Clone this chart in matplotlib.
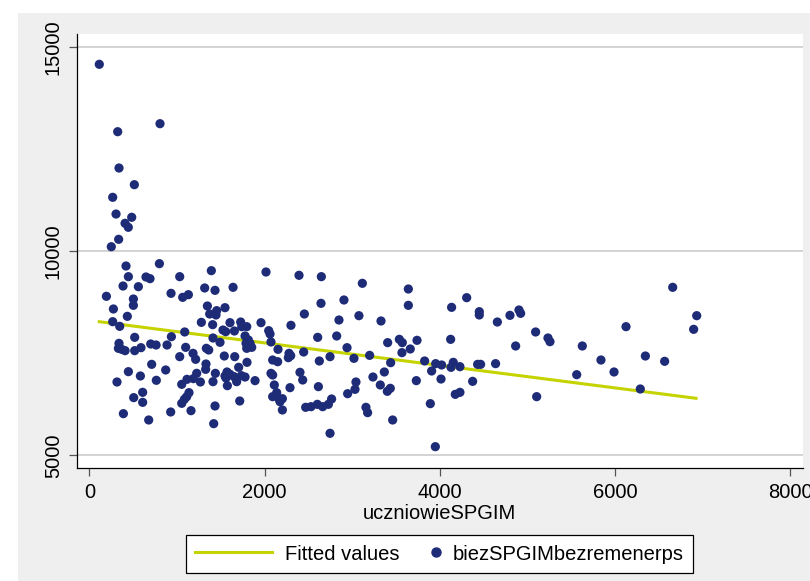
import numpy as np
import matplotlib
matplotlib.use("Agg")
from matplotlib import pyplot as plt
from matplotlib.patches import Rectangle
from matplotlib.lines import Line2D
from matplotlib.legend_handler import HandlerLine2D

plt.rcParams['font.family'] = ['Liberation Sans', 'DejaVu Sans']

# uczniowieSPGIM (x) and biezSPGIMbezremenerps (y)
uczniowie = [
    114, 807, 324, 339, 514, 267, 305, 484, 408, 445, 335, 251,
    419, 800, 446, 385, 560, 647, 693, 1032, 1393, 2017, 2394, 2649,
    195, 933, 1066, 1131, 1317, 1435, 1641, 275, 503, 503, 1348,
    1374, 1454, 1446, 1549, 2645, 2455, 434, 267, 347, 1279, 1408,
    1606, 1728, 1797, 1740, 1960, 1526, 1557, 1656, 1089, 2048, 2063,
    2302, 1778, 1816, 1789, 1835, 1797, 1854, 937, 1412, 1492, 518,
    339, 332, 370, 408, 518, 590, 701, 762, 887, 1100, 1336, 1363,
    2074, 2154, 2607, 2447, 2280, 2299, 2272, 1184, 1214, 1032, 1541,
    1660, 1800, 1332, 1328, 2093, 2150, 2626, 2748, 712, 872, 446,
    583, 765, 316, 1055, 1115, 1188, 1226, 1268, 1439, 1412, 1549,
    1572, 1606, 1560, 1705, 1652, 1682, 1736, 1778, 1576, 1892, 2093,
    2074, 2112, 2139, 2093, 2169, 2204, 2177, 2405, 2436, 2291, 2615,
    2204, 2470, 2531, 2603, 2664, 2729, 2748, 507, 609, 609, 389,
    678, 929, 1055, 1085, 1138, 1112, 1161, 1435, 1420, 1717,
    3117, 3642, 3642, 2907, 2850, 3078, 3330, 4136, 4308, 4452, 4452,
    4658, 4802, 4905, 4924, 5095, 5236, 5259, 2824, 2942, 3406, 3539,
    3573, 3741, 3664, 3569, 4125, 4867, 3021, 3200, 3440, 3828, 3954,
    4022, 3908, 4155, 4129, 4231, 4433, 4467, 4638, 3238, 3368, 3322,
    3402, 3436, 3044, 3033, 2949, 3733, 4015, 4376, 4178, 4231, 2766,
    3158, 3177, 3463, 3893, 3950, 5107,
    6660, 6934, 6899, 6127, 5628, 5841, 5990, 6348, 6568, 5564, 6290,
]
biez = [
    14569, 13116, 12920, 12031, 11623, 11314, 10905, 10825, 10678, 10580, 10286, 10105,
    9633, 9690, 9372, 9143, 9127, 9364, 9323, 9372, 9519, 9486, 9405, 9372,
    8891, 8964, 8866, 8931, 9095, 9037, 9111, 8581, 8825, 8670, 8654,
    8458, 8540, 8434, 8613, 8719, 8458, 8401, 8270, 8156, 8254, 8197,
    8246, 8262, 8148, 8148, 8246, 8066, 8026, 8042, 8018, 8050, 7969,
    8181, 7920, 7822, 7740, 7740, 7618, 7642, 7903, 7871, 7765, 7887,
    7740, 7618, 7593, 7561, 7561, 7634, 7724, 7699, 7699, 7642, 7618, 7577,
    7773, 7593, 7887, 7528, 7495, 7438, 7389, 7495, 7349, 7414, 7430,
    7414, 7275, 7234, 7104, 7332, 7291, 7308, 7414, 7226, 7088, 7047,
    6941, 6835, 6794, 6737, 6859, 6876, 7006, 6794, 7006, 6802, 6941,
    7039, 6982, 6892, 7153, 6925, 6802, 6949, 6916, 6704, 6827, 6965,
    7006, 6721, 6533, 6435, 6370, 6386, 6313, 7031, 6843, 6655, 6680,
    6109, 6174, 6190, 6247, 6190, 6247, 5538, 6411, 6541, 6296, 6019,
    5864, 6060, 6272, 6370, 6533, 6435, 6092, 6207, 5774, 6329,
    9209, 9070, 8670, 8801, 8311, 8417, 8287, 8621, 8858, 8515, 8434,
    8262, 8425, 8556, 8474, 8018, 7871, 7781, 7920, 7634, 7757, 7838,
    7757, 7814, 7602, 7512, 7838, 7675, 7373, 7446, 7267, 7308, 7243,
    7210, 7063, 7275, 7153, 7169, 7226, 7226, 7243, 6916, 7039, 6721,
    6566, 6639, 6794, 6614, 6508, 6827, 6867, 6810, 6492, 6541, 6378,
    6174, 6044, 5864, 6264, 5211, 6435,
    9111, 8417, 8083, 8148, 7675, 7332, 7039, 7430, 7300, 6973, 6623,
]

# fitted values (endpoints of the regression line)
fit_x = [114, 6926]
fit_y = [8270, 6395]

x_ticks = [0, 2000, 4000, 6000, 8000]
y_ticks = [5000, 10000, 15000]

navy = '#1e2c78'
lime = '#c5d400'

fig = plt.figure(figsize=(8.1, 5.81), dpi=100)
fig.patch.set_facecolor('white')
fig.patches.append(Rectangle((18 / 810, 0), 1, 1 - 13 / 581, transform=fig.transFigure,
                             facecolor='#efefef', edgecolor='none', zorder=-5))

ax = fig.add_axes([76.7 / 810, (581 - 468) / 581, (802.7 - 76.7) / 810, (468 - 34) / 581])
ax.set_facecolor('white')

ax.plot(fit_x, fit_y, color=lime, lw=2.2, zorder=3, label='Fitted values')
ax.scatter(uczniowie, biez, s=44, color=navy, edgecolors='none', zorder=4,
           label='biezSPGIMbezremenerps')

ax.set_xlim(-144, 8144)
ax.set_ylim(4689, 15311)
ax.set_xticks(x_ticks)
ax.set_yticks(y_ticks)
ax.grid(axis='y', color='#c8c8c8', lw=1.1)
ax.set_axisbelow(True)

for s in ['top', 'right']:
    ax.spines[s].set_visible(False)
for s in ['left', 'bottom']:
    ax.spines[s].set_color('black')
    ax.spines[s].set_linewidth(0.9)

ax.tick_params(axis='both', labelsize=14.5, length=6, width=0.9, color='#555555', pad=4)
ax.tick_params(axis='x', pad=5)
plt.setp(ax.get_yticklabels(), rotation=90, va='center')
ax.set_xlabel('uczniowieSPGIM', fontsize=14.5, labelpad=1)


class EndMarkerHandler(HandlerLine2D):
    # put the single legend marker near the right end of its handle box
    def get_xdata(self, legend, xdescent, ydescent, width, height, fontsize):
        m = -xdescent + width - 0.2 * fontsize
        return [m - 1, m + 1], [m]


h_line = Line2D([], [], color=lime, lw=2.2)
h_dot = Line2D([], [], color=navy, marker='o', ls='none', markersize=6.5)
leg = fig.legend([h_line, h_dot], ['Fitted values', 'biezSPGIMbezremenerps'],
                 loc='center', bbox_to_anchor=(439.5 / 810, (581 - 554) / 581),
                 ncol=2, fontsize=14.5, handlelength=3.8, handletextpad=0.65,
                 columnspacing=-1.8, borderpad=0.45, fancybox=False,
                 framealpha=1, edgecolor='black',
                 handler_map={h_dot: EndMarkerHandler(numpoints=1)})
leg.get_frame().set_linewidth(0.9)

fig.savefig('out.png', dpi=100)
